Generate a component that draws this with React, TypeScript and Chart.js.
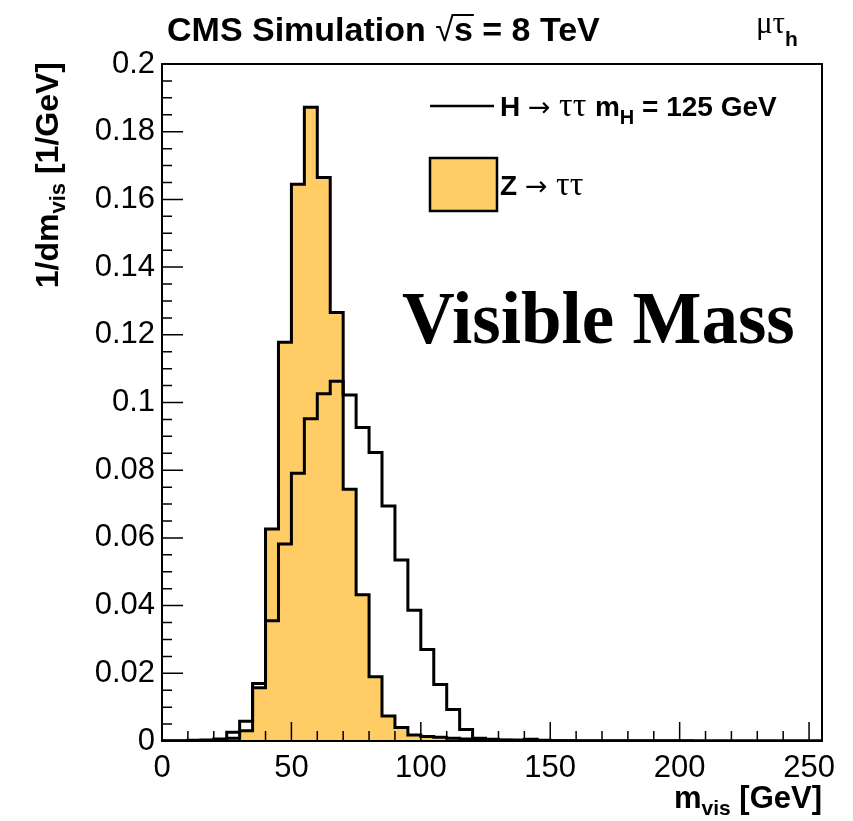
import React, { useEffect, useRef } from 'react';
import { Chart, registerables } from 'chart.js';

Chart.register(...registerables);

// ---- data (5 GeV bins, low edges) ----
const binLowEdges = [
  0, 5, 10, 15, 20, 25, 30, 35, 40, 45, 50, 55, 60, 65, 70, 75, 80, 85, 90, 95,
  100, 105, 110, 115, 120, 125, 130, 135, 140, 145, 150, 155, 160, 165, 170, 175,
  180, 185, 190, 195, 200, 205, 210, 215, 220, 225, 230, 235, 240, 245, 250,
];
const histUpperEdge = 255;

const higgsValues = [
  0.0001, 0.0001, 0.0002, 0.0003, 0.0006, 0.0026, 0.0058, 0.0170, 0.0355, 0.0582,
  0.0791, 0.0952, 0.1026, 0.1063, 0.1022, 0.0926, 0.0852, 0.0694, 0.0535, 0.0386,
  0.0270, 0.0167, 0.0093, 0.0034, 0.0008, 0.0005, 0.0003, 0.0003, 0.0005, 0.0002,
  0.0001, 0.0001, 0.0001, 0.0001, 0.0001, 0.0001, 0.0001, 0.0001, 0.0001, 0.0001,
  0.0001, 0.0, 0.0, 0.0, 0.0, 0.0, 0.0, 0.0, 0.0, 0.0, 0.0,
];

const ztautauValues = [
  0.0, 0.0, 0.0001, 0.0001, 0.0002, 0.0008, 0.0030, 0.0157, 0.0626, 0.1178,
  0.1645, 0.1872, 0.1665, 0.1266, 0.0744, 0.0432, 0.0190, 0.0074, 0.0040, 0.0018,
  0.0013, 0.0011, 0.0008, 0.0006, 0.0003, 0.0002, 0.0002, 0.0001, 0.0001, 0.0001,
  0.0001, 0.0001, 0.0, 0.0, 0.0, 0.0, 0.0, 0.0, 0.0, 0.0,
  0.0, 0.0, 0.0, 0.0, 0.0, 0.0, 0.0, 0.0, 0.0, 0.0, 0.0,
];

const seriesLabels = ['H → ττ m_H = 125 GeV', 'Z → ττ'];

const xTickValues = [0, 50, 100, 150, 200, 250];
const xTickLabels = ['0', '50', '100', '150', '200', '250'];
const yTickValues = [0, 0.02, 0.04, 0.06, 0.08, 0.1, 0.12, 0.14, 0.16, 0.18, 0.2];
const yTickLabels = ['0', '0.02', '0.04', '0.06', '0.08', '0.1', '0.12', '0.14', '0.16', '0.18', '0.2'];

function toSteps(values: number[]) {
  const pts = binLowEdges.map((x, i) => ({ x, y: values[i] }));
  pts.push({ x: histUpperEdge, y: values[values.length - 1] });
  return pts;
}

function nearestIndex(arr: number[], v: number) {
  let best = 0;
  for (let i = 1; i < arr.length; i++) if (Math.abs(arr[i] - v) < Math.abs(arr[best] - v)) best = i;
  return best;
}

type Part = { t: string; f: string; dy?: number };

function drawParts(ctx: CanvasRenderingContext2D, parts: Part[], x: number, y: number, align = 'left') {
  let w = 0;
  for (const p of parts) {
    ctx.font = p.f;
    w += ctx.measureText(p.t).width;
  }
  let cx = align === 'right' ? x - w : align === 'center' ? x - w / 2 : x;
  ctx.textAlign = 'left';
  ctx.textBaseline = 'alphabetic';
  const xs: number[] = [];
  for (const p of parts) {
    ctx.font = p.f;
    xs.push(cx);
    ctx.fillText(p.t, cx, y + (p.dy || 0));
    cx += ctx.measureText(p.t).width;
  }
  xs.push(cx);
  return xs;
}

const SB = (s: number) => `bold ${s}px "Liberation Sans", Arial, sans-serif`;
const SR = (s: number) => `${s}px "Liberation Sans", Arial, sans-serif`;
const TR = (s: number) => `${s}px "Liberation Serif", "Times New Roman", serif`;
const TB = (s: number) => `bold ${s}px "Liberation Serif", "Times New Roman", serif`;
const AR = (s: number) => `${s}px "DejaVu Sans", sans-serif`;

const annotate = {
  id: 'annotate',
  afterDraw(chart: any) {
    const ctx: CanvasRenderingContext2D = chart.ctx;
    const { left, top, right, bottom } = chart.chartArea;
    const xs = chart.scales.x;
    const ys = chart.scales.y;
    ctx.save();
    ctx.strokeStyle = '#000';
    ctx.fillStyle = '#000';

    // inward ticks
    ctx.lineWidth = 1.5;
    ctx.beginPath();
    for (let i = 0; i <= 40; i++) {
      const py = ys.getPixelForValue(i * 0.005);
      const len = i % 4 === 0 ? 21 : 10;
      ctx.moveTo(left, py);
      ctx.lineTo(left + len, py);
    }
    for (let i = 0; i <= 25; i++) {
      const px = xs.getPixelForValue(i * 10);
      const len = i % 5 === 0 ? 19 : 10;
      ctx.moveTo(px, bottom);
      ctx.lineTo(px, bottom - len);
    }
    ctx.stroke();

    // frame
    ctx.lineWidth = 2;
    ctx.strokeRect(left, top, right - left, bottom - top);

    // title
    const tp = drawParts(
      ctx,
      [
        { t: 'CMS Simulation ', f: SB(34) },
        { t: '√', f: SR(34) },
        { t: 's', f: SB(34) },
        { t: ' = 8 TeV', f: SB(34) },
      ],
      167,
      41
    );
    ctx.lineWidth = 2;
    ctx.beginPath();
    ctx.moveTo(tp[2] - 2, 15);
    ctx.lineTo(tp[3] + 1, 15);
    ctx.stroke();

    // channel label
    drawParts(ctx, [{ t: 'μτ', f: TR(31) }, { t: 'h', f: SB(21), dy: 13 }], 756, 33);

    // legend
    ctx.lineWidth = 2.5;
    ctx.beginPath();
    ctx.moveTo(430, 106);
    ctx.lineTo(494, 106);
    ctx.stroke();
    drawParts(
      ctx,
      [
        { t: 'H ', f: SB(28) },
        { t: '→', f: AR(27) },
        { t: ' ττ ', f: TR(34) },
        { t: 'm', f: SB(28) },
        { t: 'H', f: SB(20), dy: 8 },
        { t: ' = 125 GeV', f: SB(28) },
      ],
      500,
      116
    );
    ctx.fillStyle = '#ffcc66';
    ctx.fillRect(430, 158, 67, 53);
    ctx.lineWidth = 2.5;
    ctx.strokeRect(430, 158, 67, 53);
    ctx.fillStyle = '#000';
    drawParts(
      ctx,
      [
        { t: 'Z ', f: SB(28) },
        { t: '→', f: AR(27) },
        { t: ' ττ', f: TR(34) },
      ],
      500,
      195
    );

    // big label
    ctx.font = TB(73);
    ctx.textAlign = 'left';
    ctx.fillText('Visible Mass', 402, 343);

    // axis titles
    drawParts(
      ctx,
      [
        { t: 'm', f: SB(31) },
        { t: 'vis', f: SB(21), dy: 7 },
        { t: ' [GeV]', f: SB(31) },
      ],
      822,
      808,
      'right'
    );
    ctx.save();
    ctx.translate(58, 62);
    ctx.rotate(-Math.PI / 2);
    drawParts(
      ctx,
      [
        { t: '1/dm', f: SB(32) },
        { t: 'vis', f: SB(22), dy: 7 },
        { t: ' [1/GeV]', f: SB(32) },
      ],
      0,
      0,
      'right'
    );
    ctx.restore();

    ctx.restore();
  },
};

export default function App() {
  const ref = useRef<HTMLCanvasElement | null>(null);
  useEffect(() => {
    if (!ref.current) return;
    const chart = new Chart(ref.current, {
      type: 'line',
      data: {
        datasets: [
          {
            label: seriesLabels[0],
            data: toSteps(higgsValues),
            stepped: true,
            borderColor: '#000',
            borderWidth: 3,
            pointRadius: 0,
            fill: false,
          },
          {
            label: seriesLabels[1],
            data: toSteps(ztautauValues),
            stepped: true,
            borderColor: '#000',
            borderWidth: 3,
            pointRadius: 0,
            backgroundColor: '#ffcc66',
            fill: 'origin',
          },
        ],
      } as any,
      options: {
        animation: false,
        responsive: false,
        devicePixelRatio: 1,
        layout: { padding: { left: 0, right: 31, top: 64, bottom: 0 } },
        plugins: {
          legend: { display: false },
          title: { display: false },
          tooltip: { enabled: false },
        },
        scales: {
          x: {
            type: 'linear',
            min: 0,
            max: histUpperEdge,
            afterBuildTicks: (s: any) => {
              s.ticks = xTickValues.map((v) => ({ value: v }));
            },
            afterFit: (s: any) => {
              s.height = 80;
            },
            grid: { display: false, drawTicks: false },
            border: { display: false },
            ticks: {
              font: { family: '"Liberation Sans", Arial, sans-serif', size: 31 },
              color: '#000',
              padding: 9,
              maxRotation: 0,
              autoSkip: false,
              callback: (v: any) => xTickLabels[nearestIndex(xTickValues, Number(v))],
            },
          },
          y: {
            type: 'linear',
            min: 0,
            max: 0.2,
            afterBuildTicks: (s: any) => {
              s.ticks = yTickValues.map((v) => ({ value: v }));
            },
            afterFit: (s: any) => {
              s.width = 162;
            },
            grid: { display: false, drawTicks: false },
            border: { display: false },
            ticks: {
              font: { family: '"Liberation Sans", Arial, sans-serif', size: 31 },
              color: '#000',
              padding: 7,
              autoSkip: false,
              callback: (v: any) => yTickLabels[nearestIndex(yTickValues, Number(v))],
            },
          },
        },
      } as any,
      plugins: [annotate],
    });
    return () => chart.destroy();
  }, []);
  return (
    <div style={{ position: 'absolute', left: 0, top: 0, width: 853, height: 821, background: '#fff' }}>
      <canvas ref={ref} width={853} height={821} style={{ display: 'block' }} />
    </div>
  );
}
